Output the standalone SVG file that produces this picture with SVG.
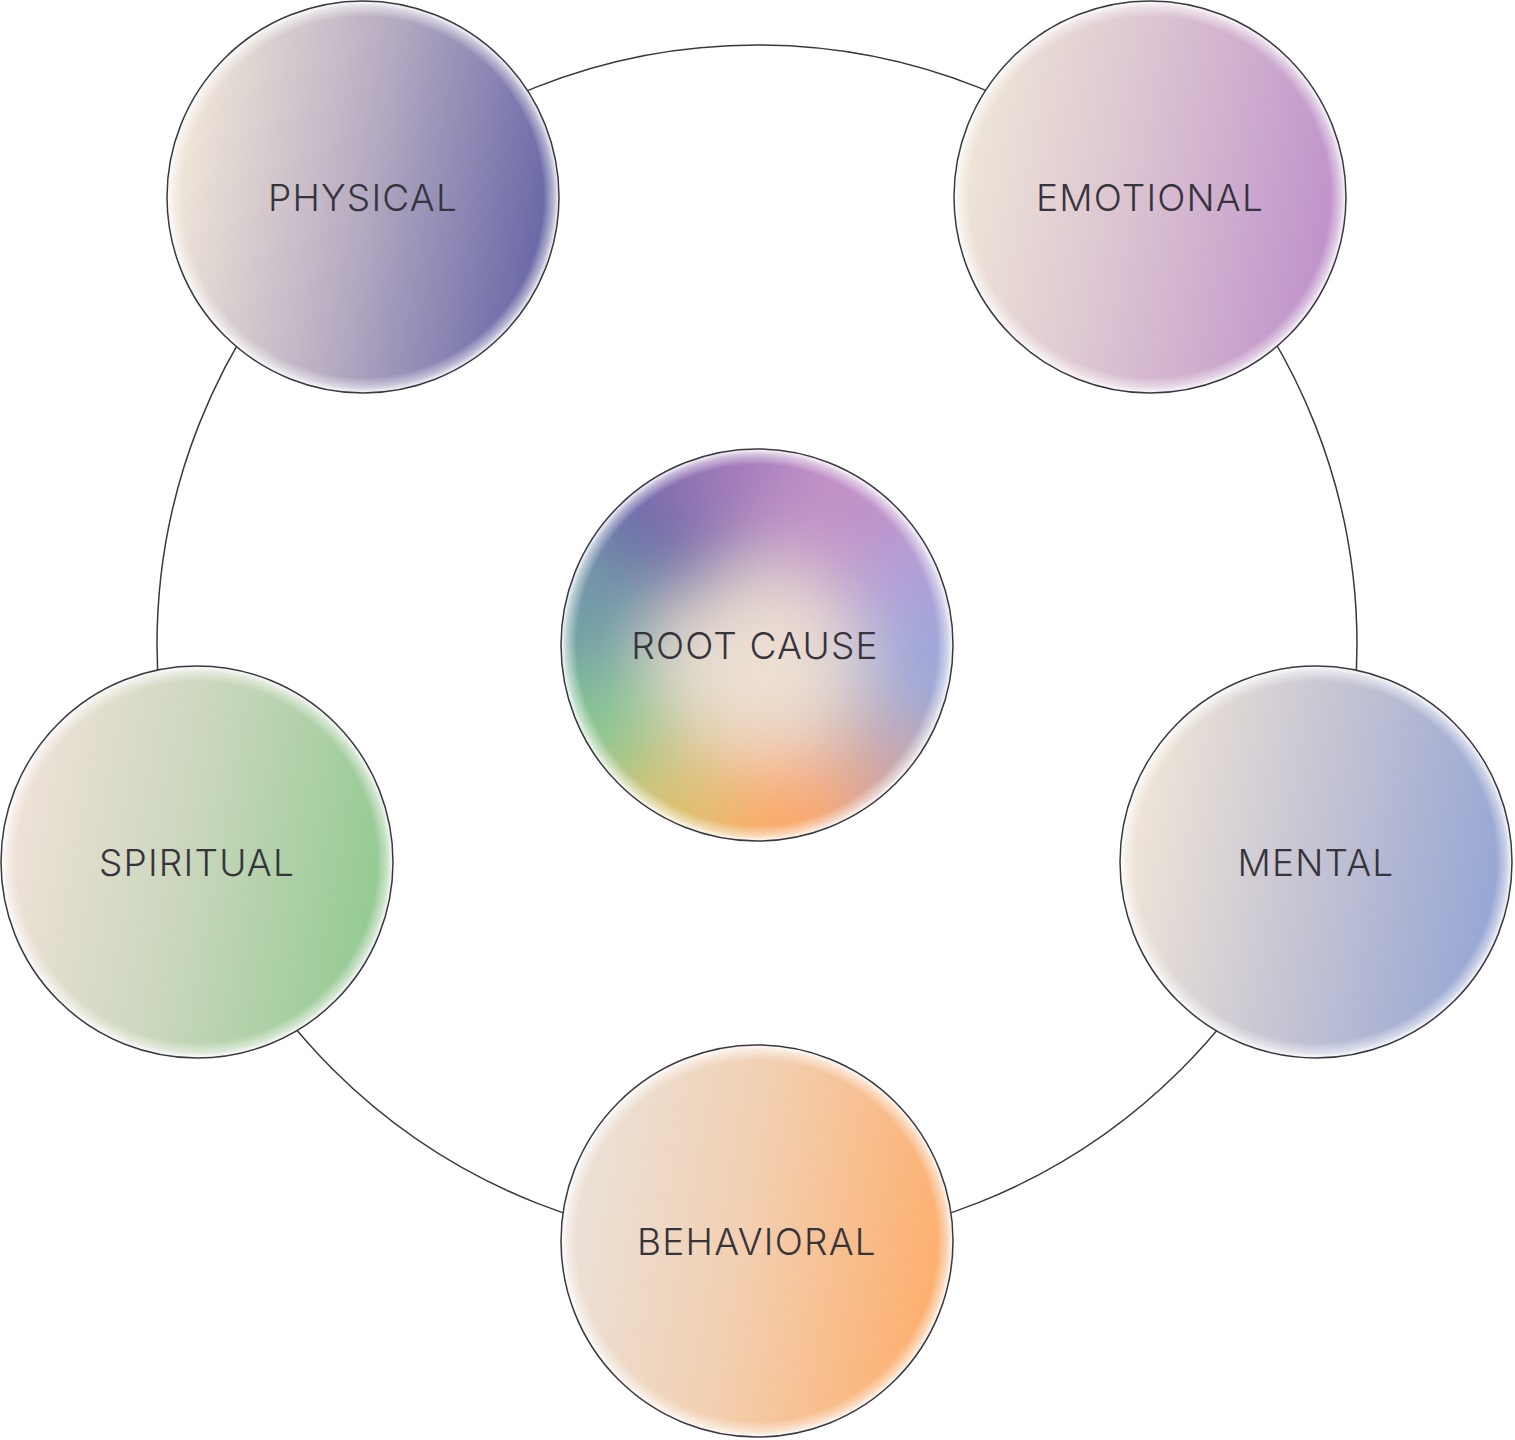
<svg xmlns="http://www.w3.org/2000/svg" width="1515" height="1440" viewBox="0 0 1515 1440">
  <style>
    .node-outline { fill: none; stroke: #3a3840; stroke-width: 1.5; }
    .glow { fill: url(#edgeGlow); }
    .label { font-family: Inter, "Liberation Sans", sans-serif; font-weight: 300; font-size: 37px; fill: #37343c; text-anchor: middle; letter-spacing: 1.2px; }
    .ring { fill: none; stroke: #3a3840; stroke-width: 1.5; }
  </style>
  <defs>
    <radialGradient id="edgeGlow" cx="0.5" cy="0.5" r="0.5">
      <stop offset="0.92" stop-color="#ffffff" stop-opacity="0"/>
      <stop offset="0.972" stop-color="#ffffff" stop-opacity="0.5"/>
      <stop offset="1" stop-color="#ffffff" stop-opacity="0.95"/>
    </radialGradient>
    <linearGradient id="gPhysical" x1="0.05" y1="0.42" x2="0.95" y2="0.58">
      <stop offset="0" stop-color="#ede3d7"/>
      <stop offset="0.45" stop-color="#bcb1c4"/>
      <stop offset="1" stop-color="#6c6aa8"/>
    </linearGradient>
    <linearGradient id="gEmotional" x1="0.05" y1="0.42" x2="0.95" y2="0.58">
      <stop offset="0" stop-color="#ede3d7"/>
      <stop offset="0.45" stop-color="#dbc3d1"/>
      <stop offset="1" stop-color="#c094cb"/>
    </linearGradient>
    <linearGradient id="gSpiritual" x1="0.05" y1="0.42" x2="0.95" y2="0.58">
      <stop offset="0" stop-color="#ede1d7"/>
      <stop offset="0.45" stop-color="#ccd7be"/>
      <stop offset="1" stop-color="#96cb94"/>
    </linearGradient>
    <linearGradient id="gMental" x1="0.05" y1="0.42" x2="0.95" y2="0.58">
      <stop offset="0" stop-color="#ede3d7"/>
      <stop offset="0.45" stop-color="#c8c6d3"/>
      <stop offset="1" stop-color="#98a7d4"/>
    </linearGradient>
    <linearGradient id="gBehavioral" x1="0.05" y1="0.42" x2="0.95" y2="0.58">
      <stop offset="0" stop-color="#ebe0d6"/>
      <stop offset="0.45" stop-color="#f2d0b2"/>
      <stop offset="1" stop-color="#fdb070"/>
    </linearGradient>
    <clipPath id="rootClip">
      <circle cx="757" cy="645" r="196"/>
    </clipPath>
    <filter id="softBlur" x="-50%" y="-50%" width="200%" height="200%">
      <feGaussianBlur stdDeviation="38"/>
    </filter>
  </defs>

  <g id="connectors">
    <circle class="ring" cx="757" cy="645" r="600"/>
  </g>

  <g id="node-physical">
    <circle cx="363" cy="197" r="196" fill="url(#gPhysical)"/>
    <circle class="glow" cx="363" cy="197" r="196"/>
    <circle class="node-outline" cx="363" cy="197" r="196"/>
    <text class="label" x="363" y="211">PHYSICAL</text>
  </g>

  <g id="node-emotional">
    <circle cx="1150" cy="197" r="196" fill="url(#gEmotional)"/>
    <circle class="glow" cx="1150" cy="197" r="196"/>
    <circle class="node-outline" cx="1150" cy="197" r="196"/>
    <text class="label" x="1150" y="211">EMOTIONAL</text>
  </g>

  <g id="node-spiritual">
    <circle cx="197" cy="862" r="196" fill="url(#gSpiritual)"/>
    <circle class="glow" cx="197" cy="862" r="196"/>
    <circle class="node-outline" cx="197" cy="862" r="196"/>
    <text class="label" x="197" y="876">SPIRITUAL</text>
  </g>

  <g id="node-mental">
    <circle cx="1316" cy="862" r="196" fill="url(#gMental)"/>
    <circle class="glow" cx="1316" cy="862" r="196"/>
    <circle class="node-outline" cx="1316" cy="862" r="196"/>
    <text class="label" x="1316" y="876">MENTAL</text>
  </g>

  <g id="node-behavioral">
    <circle cx="757" cy="1241" r="196" fill="url(#gBehavioral)"/>
    <circle class="glow" cx="757" cy="1241" r="196"/>
    <circle class="node-outline" cx="757" cy="1241" r="196"/>
    <text class="label" x="757" y="1255">BEHAVIORAL</text>
  </g>

  <g id="node-root-cause">
    <g clip-path="url(#rootClip)">
      <circle cx="757" cy="645" r="196" fill="#e4d6d2"/>
      <g filter="url(#softBlur)">
        <circle cx="655" cy="500" r="105" fill="#6a68a8"/>
        <circle cx="750" cy="455" r="95" fill="#9c78b8"/>
        <circle cx="865" cy="505" r="105" fill="#c292c8"/>
        <circle cx="930" cy="600" r="80" fill="#ae9fd8"/>
        <circle cx="935" cy="700" r="85" fill="#97a8d9"/>
        <circle cx="875" cy="795" r="85" fill="#c8a6a8"/>
        <circle cx="765" cy="845" r="105" fill="#fda868"/>
        <circle cx="650" cy="805" r="85" fill="#dcc270"/>
        <circle cx="580" cy="715" r="85" fill="#88c892"/>
        <circle cx="575" cy="610" r="75" fill="#6e9aa6"/>
        <circle cx="768" cy="665" r="95" fill="#ecdfd2"/>
      </g>
    </g>
    <circle class="glow" cx="757" cy="645" r="196"/>
    <circle class="node-outline" cx="757" cy="645" r="196"/>
    <text class="label" x="755" y="659">ROOT CAUSE</text>
  </g>
</svg>
